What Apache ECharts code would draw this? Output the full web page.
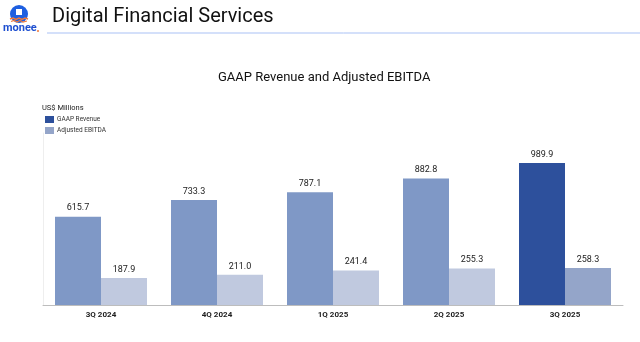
<!DOCTYPE html>
<html>
<head>
<meta charset="utf-8">
<script src="https://cdn.jsdelivr.net/npm/echarts@6/dist/echarts.min.js"></script>
<style>
  html, body { margin: 0; padding: 0; background: #fff; }
  #chart { width: 640px; height: 342px; }
</style>
</head>
<body>
<div id="chart"></div>
<script>
// Quarterly figures, US$ millions
const quarters = ['3Q 2024', '4Q 2024', '1Q 2025', '2Q 2025', '3Q 2025'];
const gaapRevenue = [615.7, 733.3, 787.1, 882.8, 989.9];
const adjustedEbitda = [187.9, 211.0, 241.4, 255.3, 258.3];

const revColor = '#7F98C6';
const revHighlight = '#2D509C';
const ebitdaColor = '#C0C9DF';
const ebitdaHighlight = '#94A5C9';
const lastIdx = quarters.length - 1;

const chart = echarts.init(document.getElementById('chart'), null, { renderer: 'canvas' });

const labelStyle = {
  show: true,
  position: 'top',
  distance: 4,
  fontFamily: 'Roboto',
  fontSize: 9,
  color: '#222',
  formatter: p => p.value.toFixed(1)
};

chart.setOption({
  animation: false,
  textStyle: { fontFamily: 'Roboto' },
  grid: { left: 43, right: 17, top: 133, bottom: 37 },
  legend: {
    orient: 'vertical',
    left: 40,
    top: 111,
    itemWidth: 9,
    itemHeight: 7,
    itemGap: 4,
    icon: 'rect',
    textStyle: { fontSize: 6.5, color: '#333', fontFamily: 'Roboto', padding: [0, 0, 0, -2] },
    data: [
      { name: 'GAAP Revenue', itemStyle: { color: revHighlight } },
      { name: 'Adjusted EBITDA', itemStyle: { color: ebitdaHighlight } }
    ]
  },
  xAxis: {
    type: 'category',
    data: quarters,
    axisLine: { show: true, lineStyle: { color: '#BDBDBD', width: 1 } },
    axisTick: { show: false },
    axisLabel: { fontSize: 8, fontWeight: 'bold', color: '#222', margin: 6, fontFamily: 'Roboto' }
  },
  yAxis: {
    type: 'value',
    min: 0,
    max: 1200,
    splitLine: { show: false },
    axisLabel: { show: false },
    axisTick: { show: false },
    axisLine: { show: true, lineStyle: { color: '#EEEEEE', width: 1 } }
  },
  series: [
    {
      name: 'GAAP Revenue',
      type: 'bar',
      barWidth: 46,
      barGap: '0%',
      itemStyle: { color: revColor },
      label: labelStyle,
      data: gaapRevenue.map((v, i) => i === lastIdx ? { value: v, itemStyle: { color: revHighlight } } : v)
    },
    {
      name: 'Adjusted EBITDA',
      type: 'bar',
      barWidth: 46,
      itemStyle: { color: ebitdaColor },
      label: labelStyle,
      data: adjustedEbitda.map((v, i) => i === lastIdx ? { value: v, itemStyle: { color: ebitdaHighlight } } : v)
    }
  ],
  graphic: [
    // page header
    { type: 'text', left: 52, top: 7, style: { text: 'Digital Financial Services', fontFamily: 'Roboto', fontSize: 20, fill: '#111' } },
    { type: 'line', shape: { x1: 47, y1: 33, x2: 640, y2: 33 }, style: { stroke: '#A9C1F5', lineWidth: 1 } },
    // brand mark
    { type: 'circle', shape: { cx: 19, cy: 14, r: 9 }, style: { fill: '#1E5FE0' } },
    { type: 'rect', shape: { x: 16, y: 9, width: 6, height: 6 }, style: { fill: '#fff' } },
    { type: 'polyline', shape: { points: [[10, 19], [13, 18], [16, 19.5], [19, 18], [22, 19.5], [25, 18], [28, 19]] }, style: { stroke: '#F07A3A', lineWidth: 1.4, fill: null } },
    { type: 'polyline', shape: { points: [[11, 21.5], [14, 20.5], [17, 22], [20, 20.5], [23, 22], [27, 21]] }, style: { stroke: '#F07A3A', lineWidth: 1.2, fill: null } },
    { type: 'text', left: 3, top: 23, style: { text: 'monee', fontFamily: 'Roboto', fontWeight: 'bold', fontSize: 11, fill: '#1E4FD0' } },
    { type: 'circle', shape: { cx: 38, cy: 31, r: 1 }, style: { fill: '#F07A3A' } },
    // chart heading and unit
    { type: 'text', left: 218, top: 71, style: { text: 'GAAP Revenue and Adjusted EBITDA', fontFamily: 'Roboto', fontSize: 13, fill: '#111' } },
    { type: 'text', left: 42, top: 104, style: { text: 'US$ Millions', fontFamily: 'Roboto', fontSize: 7.5, fill: '#222' } }
  ]
});
</script>
</body>
</html>
